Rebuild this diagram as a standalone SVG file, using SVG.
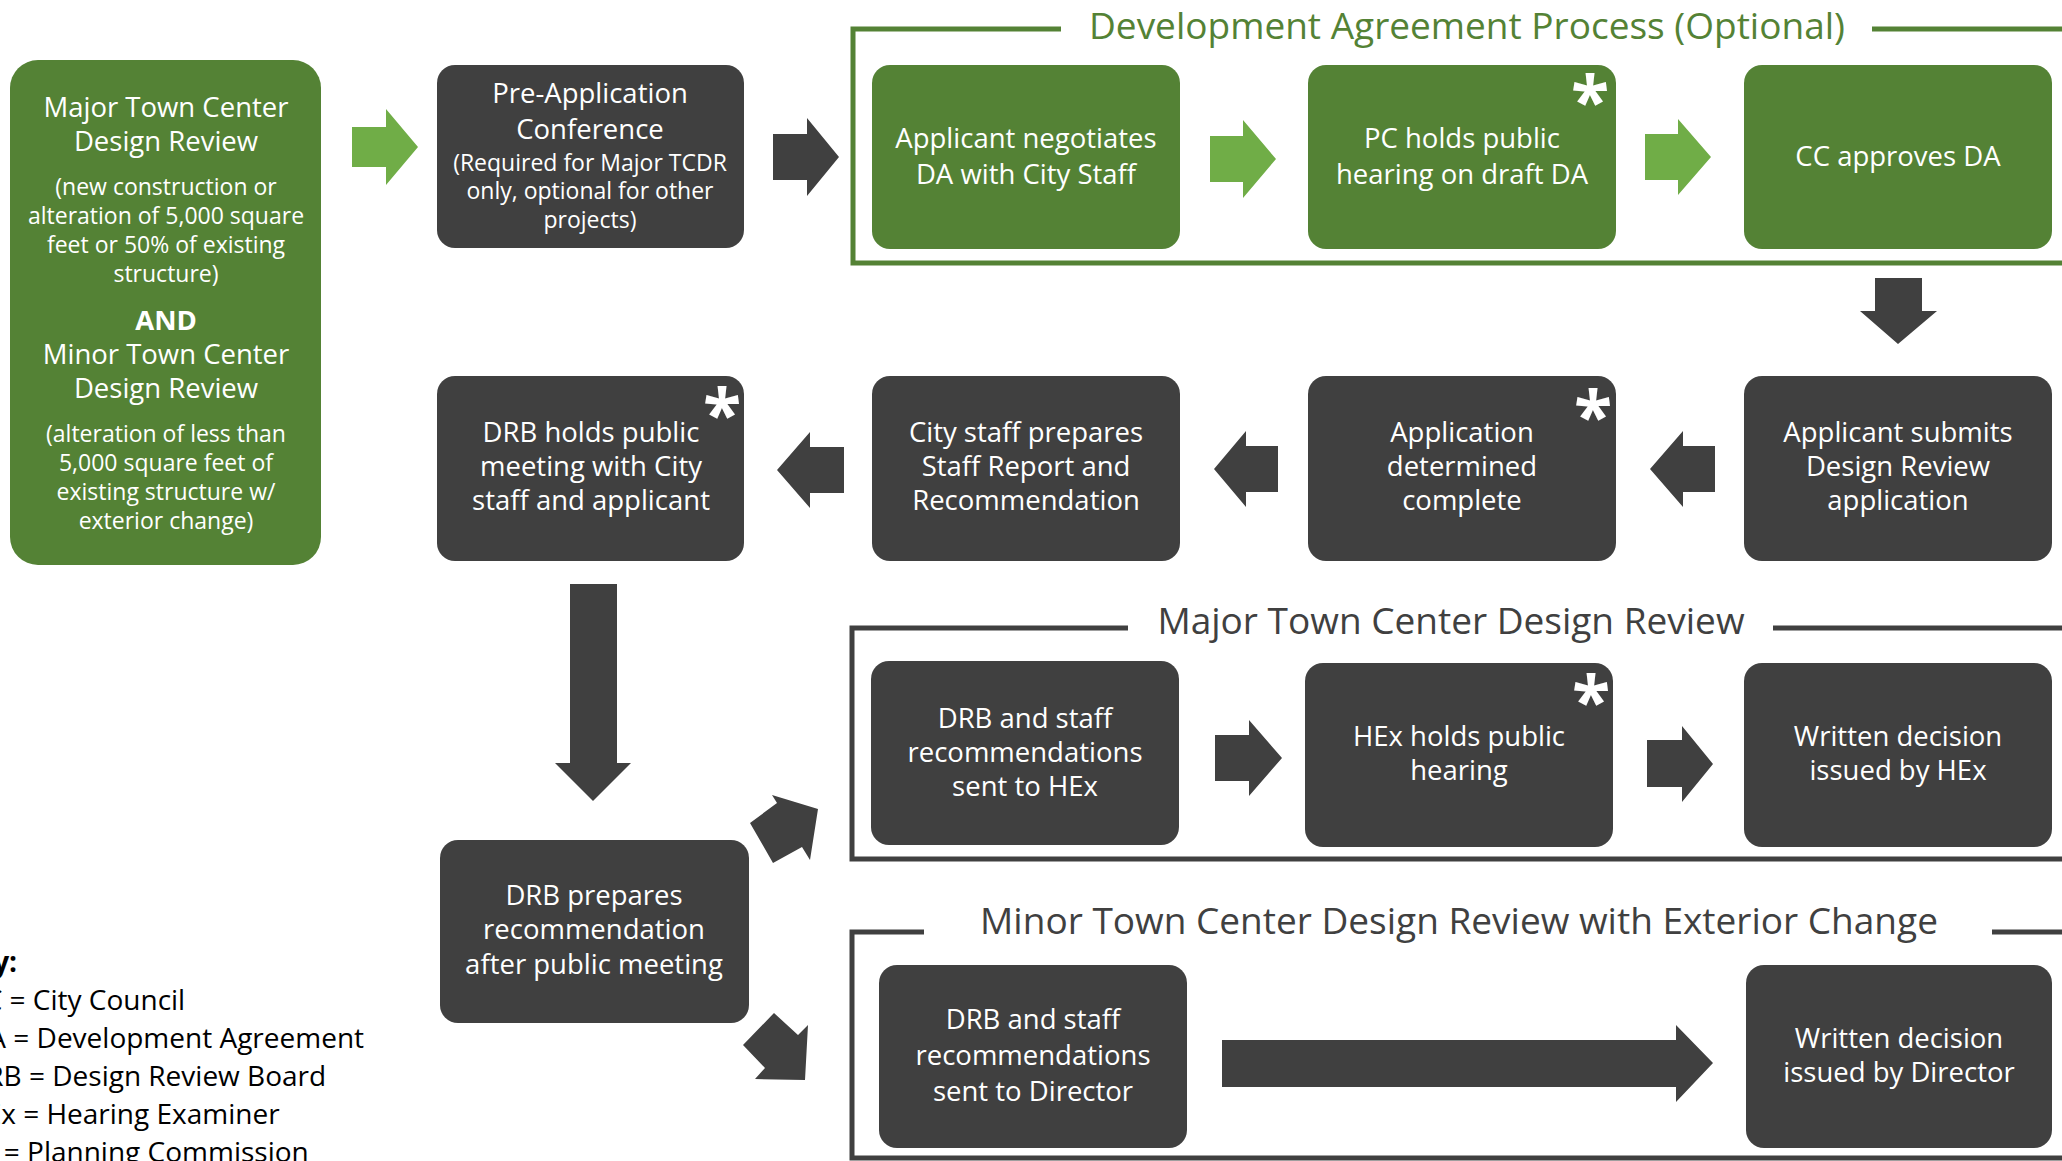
<svg xmlns="http://www.w3.org/2000/svg" width="2062" height="1161" viewBox="0 0 2062 1161">
<style>
.gbox{fill:#548235}
.dbox{fill:#404040}
.ga{fill:#70AD47}
.da{fill:#404040}
.t{font-family:"Open Sans","Liberation Sans",sans-serif;font-size:27.5px;fill:#ffffff;text-anchor:middle}
.s{font-family:"Open Sans","Liberation Sans",sans-serif;font-size:23px;fill:#ffffff;text-anchor:middle}
.b{font-weight:bold}
.ast{font-family:"Open Sans","Liberation Sans",sans-serif;font-size:70px;font-weight:bold;fill:#ffffff;text-anchor:middle}
.ttl{font-family:"Open Sans","Liberation Sans",sans-serif;font-size:37px;text-anchor:middle}
.key{font-family:"Open Sans","Liberation Sans",sans-serif;font-size:28px;fill:#000000}
.fg{fill:none;stroke:#548235;stroke-width:5}
.fd{fill:none;stroke:#404040;stroke-width:5}
</style>
<rect width="2062" height="1161" fill="#ffffff"/>

<g id="frames">
  <g id="frame-da">
    <path class="fg" d="M1061,29 H853 V263 H2062 M1872,29 H2062"/>
    <text class="ttl" x="1467" y="39" fill="#548235">Development Agreement Process (Optional)</text>
  </g>
  <g id="frame-major">
    <path class="fd" d="M1128,628 H852 V859 H2062 M1773,628 H2062"/>
    <text class="ttl" x="1451" y="634" fill="#404040">Major Town Center Design Review</text>
  </g>
  <g id="frame-minor">
    <path class="fd" d="M924,932 H852 V1158 H2062 M1992,932 H2062"/>
    <text class="ttl" x="1459" y="934" fill="#404040">Minor Town Center Design Review with Exterior Change</text>
  </g>
</g>

<g id="connectors">
  <polygon class="ga" points="352,127 386,127 386,109 418,147 386,185 386,167 352,167"/>
  <polygon class="da" points="773,134 807,134 807,118 839,157 807,196 807,180 773,180"/>
  <polygon class="ga" points="1210,136 1243,136 1243,120 1276,159 1243,198 1243,182 1210,182"/>
  <polygon class="ga" points="1645,134 1678,134 1678,119 1711,157 1678,195 1678,180 1645,180"/>
  <polygon class="da" points="1875,278 1922,278 1922,311 1937,311 1898,344 1860,311 1875,311"/>
  <polygon class="da" points="1715,446 1683,446 1683,431 1650,469 1683,507 1683,492 1715,492"/>
  <polygon class="da" points="1278,446 1246,446 1246,431 1214,469 1246,507 1246,492 1278,492"/>
  <polygon class="da" points="844,447 810,447 810,432 777,470 810,508 810,493 844,493"/>
  <polygon class="da" points="570,584 617,584 617,763 631,763 593,801 555,763 570,763"/>
  <polygon class="da" points="750,823 777,803 772,795 818,809 810,860 802,847 773,863"/>
  <polygon class="da" points="774,1013 798,1035 808,1025 805,1080 755,1079 765,1068 743,1045"/>
  <polygon class="da" points="1215,735 1249,735 1249,720 1282,758 1249,796 1249,781 1215,781"/>
  <polygon class="da" points="1647,740 1682,740 1682,726 1713,764 1682,802 1682,787 1647,787"/>
  <polygon class="da" points="1222,1040 1676,1040 1676,1025 1713,1063 1676,1102 1676,1087 1222,1087"/>
</g>

<g id="n-start">
  <rect class="gbox" x="10" y="60" width="311" height="505" rx="28"/>
  <text class="t" x="166" y="117">Major Town Center</text>
  <text class="t" x="166" y="151">Design Review</text>
  <text class="s" x="166" y="195">(new construction or</text>
  <text class="s" x="166" y="224">alteration of 5,000 square</text>
  <text class="s" x="166" y="253">feet or 50% of existing</text>
  <text class="s" x="166" y="282">structure)</text>
  <text class="t b" x="166" y="330">AND</text>
  <text class="t" x="166" y="364">Minor Town Center</text>
  <text class="t" x="166" y="398">Design Review</text>
  <text class="s" x="166" y="442">(alteration of less than</text>
  <text class="s" x="166" y="471">5,000 square feet of</text>
  <text class="s" x="166" y="500">existing structure w/</text>
  <text class="s" x="166" y="529">exterior change)</text>
</g>

<g id="n-preapp">
  <rect class="dbox" x="437" y="65" width="307" height="183" rx="18"/>
  <text class="t" x="590" y="103">Pre-Application</text>
  <text class="t" x="590" y="139">Conference</text>
  <text class="s" x="590" y="171">(Required for Major TCDR</text>
  <text class="s" x="590" y="199">only, optional for other</text>
  <text class="s" x="590" y="228">projects)</text>
</g>

<g id="n-negotiate">
  <rect class="gbox" x="872" y="65" width="308" height="184" rx="18"/>
  <text class="t" x="1026" y="148">Applicant negotiates</text>
  <text class="t" x="1026" y="184">DA with City Staff</text>
</g>

<g id="n-pc">
  <rect class="gbox" x="1308" y="65" width="308" height="184" rx="18"/>
  <text class="t" x="1462" y="148">PC holds public</text>
  <text class="t" x="1462" y="184">hearing on draft DA</text>
  <text class="ast" x="1590" y="126">*</text>
</g>

<g id="n-cc">
  <rect class="gbox" x="1744" y="65" width="308" height="184" rx="18"/>
  <text class="t" x="1898" y="166">CC approves DA</text>
</g>

<g id="n-submit">
  <rect class="dbox" x="1744" y="376" width="308" height="185" rx="18"/>
  <text class="t" x="1898" y="442">Applicant submits</text>
  <text class="t" x="1898" y="476">Design Review</text>
  <text class="t" x="1898" y="510">application</text>
</g>

<g id="n-complete">
  <rect class="dbox" x="1308" y="376" width="308" height="185" rx="18"/>
  <text class="t" x="1462" y="442">Application</text>
  <text class="t" x="1462" y="476">determined</text>
  <text class="t" x="1462" y="510">complete</text>
  <text class="ast" x="1593" y="441">*</text>
</g>

<g id="n-staffreport">
  <rect class="dbox" x="872" y="376" width="308" height="185" rx="18"/>
  <text class="t" x="1026" y="442">City staff prepares</text>
  <text class="t" x="1026" y="476">Staff Report and</text>
  <text class="t" x="1026" y="510">Recommendation</text>
</g>

<g id="n-drbmeeting">
  <rect class="dbox" x="437" y="376" width="307" height="185" rx="18"/>
  <text class="t" x="591" y="442">DRB holds public</text>
  <text class="t" x="591" y="476">meeting with City</text>
  <text class="t" x="591" y="510">staff and applicant</text>
  <text class="ast" x="722" y="439">*</text>
</g>

<g id="n-drbprepares">
  <rect class="dbox" x="440" y="840" width="309" height="183" rx="18"/>
  <text class="t" x="594" y="905">DRB prepares</text>
  <text class="t" x="594" y="939">recommendation</text>
  <text class="t" x="594" y="974">after public meeting</text>
</g>

<g id="n-tohex">
  <rect class="dbox" x="871" y="661" width="308" height="184" rx="18"/>
  <text class="t" x="1025" y="728">DRB and staff</text>
  <text class="t" x="1025" y="762">recommendations</text>
  <text class="t" x="1025" y="796">sent to HEx</text>
</g>

<g id="n-hexhearing">
  <rect class="dbox" x="1305" y="663" width="308" height="184" rx="18"/>
  <text class="t" x="1459" y="746">HEx holds public</text>
  <text class="t" x="1459" y="780">hearing</text>
  <text class="ast" x="1591" y="726">*</text>
</g>

<g id="n-hexdecision">
  <rect class="dbox" x="1744" y="663" width="308" height="184" rx="18"/>
  <text class="t" x="1898" y="746">Written decision</text>
  <text class="t" x="1898" y="780">issued by HEx</text>
</g>

<g id="n-todirector">
  <rect class="dbox" x="879" y="965" width="308" height="183" rx="18"/>
  <text class="t" x="1033" y="1029">DRB and staff</text>
  <text class="t" x="1033" y="1065">recommendations</text>
  <text class="t" x="1033" y="1101">sent to Director</text>
</g>

<g id="n-dirdecision">
  <rect class="dbox" x="1746" y="965" width="306" height="183" rx="18"/>
  <text class="t" x="1899" y="1048">Written decision</text>
  <text class="t" x="1899" y="1082">issued by Director</text>
</g>

<g id="key">
  <text class="key b" x="-42" y="972">Key:</text>
  <text class="key" x="-33" y="1010">CC = City Council</text>
  <text class="key" x="-32" y="1048">DA = Development Agreement</text>
  <text class="key" x="-34" y="1086">DRB = Design Review Board</text>
  <text class="key" x="-35" y="1124">HEx = Hearing Examiner</text>
  <text class="key" x="-38" y="1162">PC = Planning Commission</text>
</g>
</svg>
